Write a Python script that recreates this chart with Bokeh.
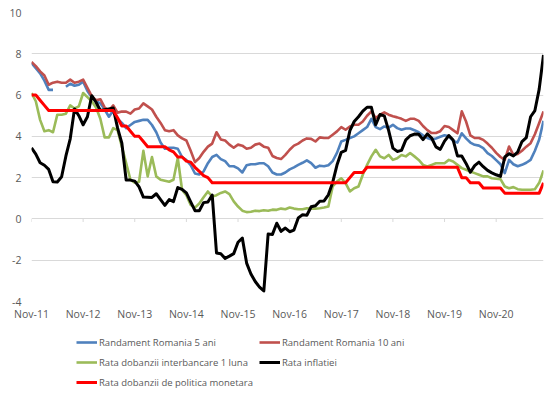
import pandas as pd
from bokeh.plotting import figure
from bokeh.layouts import column
from bokeh.models import FixedTicker, Legend, LegendItem, Range1d
from bokeh.embed import file_html
from bokeh.resources import INLINE

# monthly categories Nov-2011 .. Oct-2021
months = pd.date_range("2011-11-01", periods=120, freq="MS")
x = list(range(len(months)))
month_labels = [m.strftime("%b-%y") for m in months]

y_ticks = [-4, -2, 0, 2, 4, 6, 8, 10]

rand_5y = [7.55, 7.3, 7.05, 6.7, 6.25, 6.25, float("nan"), float("nan"), 6.4, 6.55, 6.45, 6.5,
           6.65, 6.2, 5.9, 5.7, 5.6, 5.3, 4.95, 5.25, 4.85, 4.65, 4.4, 4.55,
           4.7, 4.75, 4.8, 4.8, 4.55, 4.2, 3.7, 3.4, 3.45, 3.45, 3.4, 3.0,
           2.85, 2.6, 2.2, 2.15, 2.3, 2.7, 3.0, 3.1, 2.9, 2.8, 2.55, 2.55,
           2.45, 2.25, 2.6, 2.65, 2.65, 2.7, 2.7, 2.55, 2.25, 2.15, 2.15, 2.25,
           2.4, 2.5, 2.62, 2.72, 2.84, 2.7, 2.48, 2.58, 2.55, 2.6, 2.8, 3.2,
           3.75, 3.83, 3.92, 4.0, 4.15, 4.3, 4.45, 4.85, 4.45, 4.35, 4.48, 4.42,
           4.56, 4.4, 4.32, 4.38, 4.38, 4.3, 4.2, 4.05, 3.92, 3.85, 3.9, 3.98,
           4.05, 4.0, 3.78, 3.7, 4.15, 3.9, 3.7, 3.59, 3.55, 3.43, 3.19, 3.05,
           2.85, 2.65, 2.22, 2.86, 2.65, 2.55, 2.62, 2.72, 2.86, 3.3, 3.85, 4.75]

rand_10y = [7.6, 7.4, 7.15, 6.95, 6.5, 6.6, 6.65, 6.6, 6.6, 6.75, 6.6, 6.65,
            6.75, 6.35, 5.95, 5.75, 5.8, 5.4, 5.25, 5.5, 5.15, 5.2, 5.2, 5.1,
            5.3, 5.35, 5.6, 5.45, 5.3, 4.95, 4.65, 4.3, 4.25, 4.3, 4.05, 3.9,
            3.8, 3.3, 2.75, 2.95, 3.25, 3.5, 3.65, 4.2, 3.85, 3.8, 3.6, 3.45,
            3.6, 3.55, 3.4, 3.45, 3.6, 3.65, 3.5, 3.45, 3.05, 2.95, 2.9, 3.1,
            3.35, 3.55, 3.65, 3.8, 3.9, 3.88, 3.75, 3.95, 3.92, 3.92, 4.08, 4.24,
            4.45, 4.32, 4.48, 4.56, 4.56, 4.72, 5.0, 5.21, 4.89, 5.05, 5.16, 5.05,
            4.97, 4.92, 4.85, 4.75, 4.85, 4.85, 4.75, 4.5, 4.3, 4.16, 4.16, 4.25,
            4.5, 4.45, 4.3, 4.15, 5.21, 4.72, 4.05, 3.92, 3.92, 3.83, 3.65, 3.45,
            3.2, 3.0, 2.86, 3.51, 3.1, 3.15, 3.3, 3.5, 3.67, 4.1, 4.65, 5.21]

robor_1m = [6.1, 5.7, 4.8, 4.25, 4.3, 4.2, 5.05, 5.05, 5.1, 5.5, 5.35, 5.45,
            6.1, 5.9, 5.7, 5.4, 4.85, 3.95, 3.95, 4.4, 4.3, 3.5, 2.7, 1.9,
            1.75, 1.8, 3.3, 2.06, 3.0, 2.06, 1.9, 1.85, 1.8, 1.9, 2.95, 1.4,
            1.15, 0.68, 0.55, 0.75, 1.05, 1.33, 1.08, 1.15, 1.26, 1.33, 1.2, 0.85,
            0.6, 0.4, 0.33, 0.35, 0.4, 0.38, 0.42, 0.4, 0.45, 0.44, 0.5, 0.47,
            0.55, 0.5, 0.47, 0.47, 0.52, 0.5, 0.5, 0.52, 0.55, 0.6, 1.57, 1.81,
            1.97, 1.73, 1.33, 1.49, 1.57, 2.14, 2.62, 3.03, 3.35, 3.03, 2.94, 3.1,
            2.86, 2.94, 3.1, 3.03, 3.19, 3.03, 2.86, 2.62, 2.54, 2.62, 2.7, 2.7,
            2.7, 2.86, 2.78, 2.62, 2.46, 2.38, 2.3, 2.22, 2.14, 2.06, 2.06, 1.97,
            1.95, 1.93, 1.57, 1.49, 1.54, 1.44, 1.41, 1.41, 1.41, 1.44, 1.75, 2.35]

inflation = [3.44, 3.14, 2.72, 2.60, 2.40, 1.80, 1.79, 2.04, 3.05, 3.88, 5.33, 5.00,
             4.56, 4.95, 5.97, 5.65, 5.25, 5.29, 5.33, 5.37, 4.41, 3.67, 1.88, 1.88,
             1.83, 1.55, 1.06, 1.05, 1.04, 1.22, 0.94, 0.66, 0.94, 0.84, 1.52, 1.43,
             1.26, 0.83, 0.40, 0.40, 0.79, 0.82, 1.16, -1.65, -1.69, -1.91, -1.80, -1.68,
             -1.13, -0.93, -2.14, -2.67, -3.03, -3.30, -3.49, -0.73, -0.75, -0.21, -0.60, -0.44,
             -0.62, -0.54, 0.05, 0.20, 0.18, 0.59, 0.64, 0.86, 0.87, 1.17, 1.77, 2.61,
             3.23, 3.32, 4.28, 4.72, 4.95, 5.22, 5.41, 5.41, 4.56, 5.06, 4.99, 4.29,
             3.43, 3.27, 3.32, 3.83, 4.03, 4.11, 4.10, 3.84, 4.12, 3.92, 3.49, 3.37,
             3.77, 4.04, 3.82, 3.05, 3.05, 2.69, 2.26, 2.58, 2.75, 2.53, 2.35, 2.23,
             2.14, 2.06, 3.00, 3.16, 3.05, 3.24, 3.75, 3.94, 4.95, 5.25, 6.29, 7.94]

policy_rate = [6.0, 6.0, 5.75, 5.5, 5.25, 5.25, 5.25, 5.25, 5.25, 5.25, 5.25, 5.25,
               5.25, 5.25, 5.25, 5.25, 5.25, 5.25, 5.25, 5.25, 4.9, 4.5, 4.5, 4.25,
               4.0, 4.0, 3.75, 3.5, 3.5, 3.5, 3.5, 3.5, 3.35, 3.25, 3.0, 3.0,
               2.8, 2.75, 2.5, 2.3, 2.1, 2.0, 1.75, 1.75, 1.75, 1.75, 1.75, 1.75,
               1.75, 1.75, 1.75, 1.75, 1.75, 1.75, 1.75, 1.75, 1.75, 1.75, 1.75, 1.75,
               1.75, 1.75, 1.75, 1.75, 1.75, 1.75, 1.75, 1.75, 1.75, 1.75, 1.75, 1.75,
               1.75, 1.75, 2.0, 2.25, 2.25, 2.25, 2.5, 2.5, 2.5, 2.5, 2.5, 2.5,
               2.5, 2.5, 2.5, 2.5, 2.5, 2.5, 2.5, 2.5, 2.5, 2.5, 2.5, 2.5,
               2.5, 2.5, 2.5, 2.5, 2.0, 2.0, 1.75, 1.75, 1.75, 1.5, 1.5, 1.5,
               1.5, 1.5, 1.25, 1.25, 1.25, 1.25, 1.25, 1.25, 1.25, 1.25, 1.25, 1.75]

series_names = ["Randament Romania 5 ani", "Randament Romania 10 ani",
                "Rata dobanzii interbancare 1 luna", "Rata inflatiei",
                "Rata dobanzii de politica monetara"]
series_values = [rand_5y, rand_10y, robor_1m, inflation, policy_rate]
series_colors = ["#4F81BD", "#C0504D", "#9BBB59", "#000000", "#FF0000"]
series_widths = [2.6, 2.6, 2.6, 3.0, 3.0]

tick_pos = [i for i, m in enumerate(months) if m.month == 11]
tick_labels = {i: month_labels[i] for i in tick_pos}

FONT = "Open Sans"
TXT = "#595959"
GRID = "#d9d9d9"

# ---- main chart -------------------------------------------------------
p = figure(width=548, height=325, output_backend="svg", toolbar_location=None,
           x_range=Range1d(0, len(x) - 1), y_range=Range1d(-4, 10),
           min_border_left=31, min_border_right=5, min_border_top=12,
           min_border_bottom=24)
p.outline_line_color = None
p.background_fill_color = "white"
p.border_fill_color = "white"

p.xgrid.visible = False
p.ygrid.ticker = FixedTicker(ticks=y_ticks)
p.ygrid.grid_line_color = GRID
p.ygrid.grid_line_width = 1

p.yaxis.ticker = FixedTicker(ticks=y_ticks)
p.yaxis.major_label_overrides = {t: str(t) for t in y_ticks}
p.yaxis.axis_line_color = None
p.yaxis.major_tick_line_color = None
p.yaxis.minor_tick_line_color = None
p.yaxis.major_tick_out = 0
p.yaxis.major_tick_in = 0
p.yaxis.major_label_standoff = 10

p.xaxis.ticker = FixedTicker(ticks=tick_pos)
p.xaxis.major_label_overrides = tick_labels
p.xaxis.axis_line_color = None
p.xaxis.major_tick_line_color = None
p.xaxis.minor_tick_line_color = None
p.xaxis.major_tick_out = 0
p.xaxis.major_tick_in = 0
p.xaxis.major_label_standoff = 5

for ax in (p.xaxis, p.yaxis):
    ax.major_label_text_font = FONT
    ax.major_label_text_font_size = "10.5px"
    ax.major_label_text_color = TXT

# small category tick marks on the zero line
p.segment(x0=tick_pos, y0=[0] * len(tick_pos), x1=tick_pos,
          y1=[-0.15] * len(tick_pos), line_color=GRID, line_width=1)

for vals, col, w in zip(series_values, series_colors, series_widths):
    p.line(x, vals, line_color=col, line_width=w, line_join="round")

# ---- legend strip (frame aligned with the chart frame) ------------------
pl = figure(width=548, height=71, output_backend="svg", toolbar_location=None,
            x_axis_type=None, y_axis_type=None,
            x_range=Range1d(500, 501), y_range=Range1d(0, 1),
            min_border_left=31, min_border_right=5, min_border_top=0,
            min_border_bottom=0)
pl.outline_line_color = None
pl.grid.visible = False
pl.background_fill_color = "white"
pl.border_fill_color = "white"

items = []
for name, vals, col, w in zip(series_names, series_values, series_colors, series_widths):
    # same series, outside this strip's visible range: only the legend key shows
    r = pl.line(x, vals, line_color=col, line_width=w)
    items.append(LegendItem(label=name, renderers=[r]))

legend = Legend(items=items, orientation="horizontal", ncols=2,
                location=(45, 7), padding=0, margin=0, spacing=6,
                glyph_width=21, glyph_height=14, label_height=14,
                label_standoff=2, label_text_font=FONT,
                label_text_font_size="9.5px", label_text_color=TXT,
                border_line_color=None, background_fill_alpha=0)
pl.add_layout(legend, "center")

layout = column(p, pl, spacing=0)
open("out.html", "w").write(file_html(layout, INLINE))
